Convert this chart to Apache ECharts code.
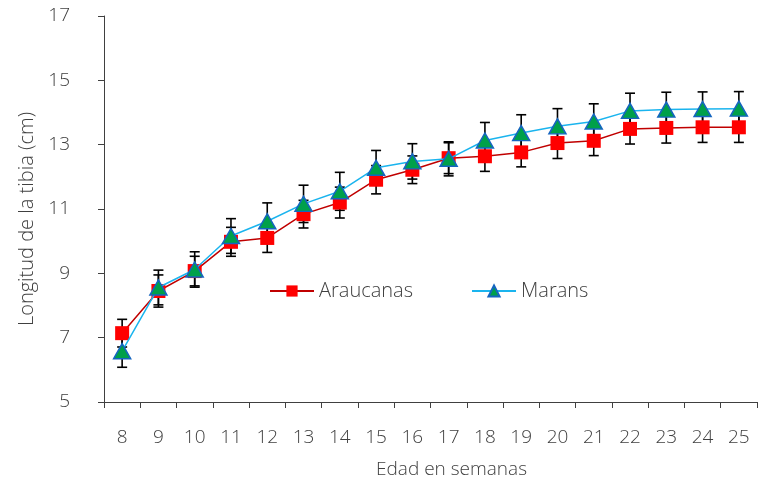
<!DOCTYPE html>
<html>
<head>
<meta charset="utf-8">
<script src="https://cdn.jsdelivr.net/npm/echarts@6/dist/echarts.min.js"></script>
<style>html,body{margin:0;padding:0;background:#fff}#c{width:768px;height:484px}</style>
</head>
<body>
<div id="c"></div>
<script>
var weeks = ['8','9','10','11','12','13','14','15','16','17','18','19','20','21','22','23','24','25'];
var araucanas = [7.14,8.45,9.07,9.98,10.10,10.84,11.20,11.91,12.22,12.58,12.64,12.76,13.05,13.12,13.49,13.52,13.54,13.54];
var araucanasSE = [0.43,0.50,0.46,0.45,0.45,0.43,0.48,0.44,0.43,0.48,0.47,0.45,0.48,0.46,0.47,0.47,0.47,0.47];
var marans = [6.58,8.56,9.12,10.16,10.62,11.16,11.55,12.28,12.48,12.56,13.13,13.36,13.57,13.72,14.05,14.09,14.11,14.12];
var maransSE = [0.50,0.54,0.55,0.54,0.57,0.58,0.59,0.54,0.55,0.53,0.56,0.57,0.55,0.55,0.55,0.54,0.53,0.53];
var yTicks = [5,7,9,11,13,15,17];

var FONT = '"Open Sans", Lato, sans-serif';
var TXT = '#404040';

function errData(vals, se) {
  return vals.map(function (v, i) { return [i, v - se[i], v + se[i]]; });
}
function errRender(params, api) {
  var x = api.value(0);
  var lo = api.coord([x, api.value(1)]);
  var hi = api.coord([x, api.value(2)]);
  var w = 5;
  var st = { stroke: '#000', lineWidth: 1.6 };
  return {
    type: 'group',
    children: [
      { type: 'line', shape: { x1: hi[0], y1: hi[1], x2: lo[0], y2: lo[1] }, style: st },
      { type: 'line', shape: { x1: hi[0] - w, y1: hi[1], x2: hi[0] + w, y2: hi[1] }, style: st },
      { type: 'line', shape: { x1: lo[0] - w, y1: lo[1], x2: lo[0] + w, y2: lo[1] }, style: st }
    ]
  };
}

var chart = echarts.init(document.getElementById('c'));
chart.setOption({
  animation: false,
  backgroundColor: '#fff',
  grid: { left: 104, right: 11, top: 16, bottom: 81 },
  legend: {
    left: 264, top: 276,
    itemWidth: 44, itemHeight: 14, itemGap: 58,
    textStyle: { fontFamily: FONT, fontSize: 20, color: TXT, fontWeight: 300 },
    data: ['Araucanas', 'Marans']
  },
  xAxis: {
    type: 'category',
    data: weeks,
    boundaryGap: true,
    name: 'Edad en semanas',
    nameLocation: 'middle',
    nameGap: 58,
    nameTextStyle: { fontFamily: FONT, fontSize: 19, color: TXT, fontWeight: 300, padding: [0, 0, 0, 42] },
    axisLine: { lineStyle: { color: '#404040', width: 1 } },
    axisTick: { show: true, length: 6, alignWithLabel: false, lineStyle: { color: '#404040' } },
    axisLabel: { margin: 26, fontFamily: FONT, fontSize: 19, color: TXT, fontWeight: 300 },
    splitLine: { show: false }
  },
  yAxis: {
    type: 'value',
    min: yTicks[0], max: yTicks[yTicks.length - 1], interval: 2,
    name: 'Longitud de la tibia (cm)',
    nameLocation: 'middle',
    nameGap: 66,
    nameRotate: 90,
    nameTextStyle: { fontFamily: FONT, fontSize: 20, color: TXT, fontWeight: 300, padding: [0, 20, 0, 0] },
    axisLine: { show: true, lineStyle: { color: '#404040', width: 1 } },
    axisTick: { show: true, length: 6, lineStyle: { color: '#404040' } },
    axisLabel: { margin: 34, fontFamily: FONT, fontSize: 19, color: TXT, fontWeight: 300 },
    splitLine: { show: false }
  },
  series: [
    {
      type: 'custom', name: 'errA', renderItem: errRender, data: errData(araucanas, araucanasSE), z: 1, silent: true
    },
    {
      type: 'custom', name: 'errM', renderItem: errRender, data: errData(marans, maransSE), z: 1, silent: true
    },
    {
      name: 'Araucanas', type: 'line', data: araucanas, z: 3,
      symbol: 'rect', symbolSize: 14, showAllSymbol: true,
      lineStyle: { color: '#c00000', width: 1.5 },
      itemStyle: { color: '#ff0000', borderColor: '#ff0000', borderWidth: 0 }
    },
    {
      name: 'Marans', type: 'line', data: marans, z: 4,
      symbol: 'triangle', symbolSize: [17, 15], showAllSymbol: true,
      lineStyle: { color: '#1ab4ee', width: 1.5 },
      itemStyle: { color: '#00a04a', borderColor: '#1565c0', borderWidth: 1.5 }
    }
  ]
});
</script>
</body>
</html>
